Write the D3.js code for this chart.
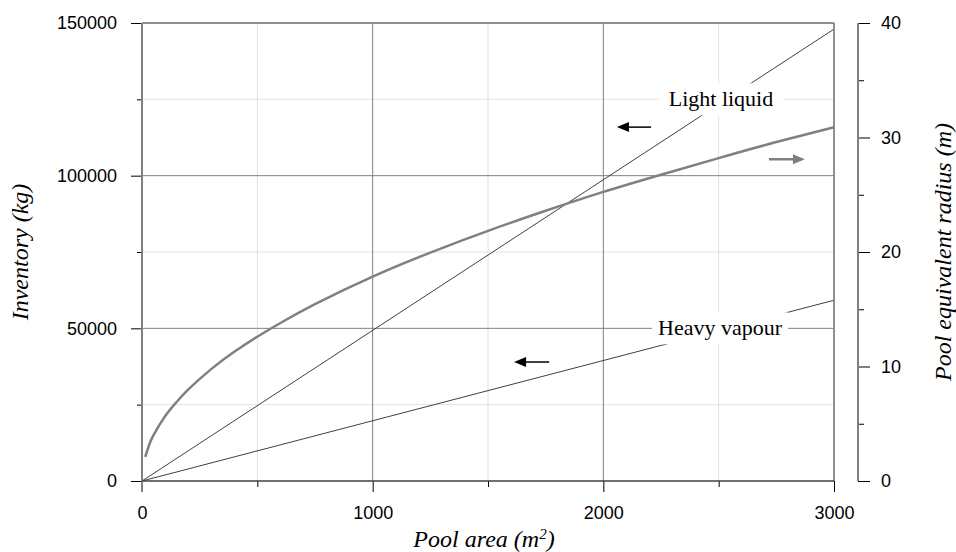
<!DOCTYPE html>
<html>
<head>
  <meta charset="UTF-8">
  <title>Pool area vs inventory</title>
  <script src="https://d3js.org/d3.v7.min.js"></script>
  <style>
    body { margin: 0; background: #fff; }
    .tick text { font-family: "Liberation Sans", Arial, sans-serif; font-size: 18px; fill: #000; }
    .title { font-family: "Liberation Serif", "Times New Roman", serif; font-style: italic; font-size: 24px; fill: #000; }
    .note { font-family: "Liberation Serif", "Times New Roman", serif; font-size: 22px; fill: #000; }
  </style>
</head>
<body>
  <div id="chart"></div>
  <script>
    // values
    const areaLine = [0, 3000];
    const lightLiquid = [0, 148000];   // kg, left axis
    const heavyVapour = [0, 59200];    // kg, left axis

    const areaRadius = [14, 30, 50, 100, 150, 200, 300, 400, 500, 600, 750, 1000, 1250, 1500, 1750, 2000, 2250, 2500, 2750, 3000];
    const radius =     [2.1, 3.1, 4.0, 5.65, 6.9, 7.98, 9.77, 11.28, 12.6, 13.8, 15.45, 17.85, 19.95, 21.85, 23.6, 25.25, 26.75, 28.2, 29.6, 30.9];

    const xTicks = [0, 1000, 2000, 3000];
    const xMinor = [500, 1500, 2500];
    const leftTicks = [0, 50000, 100000, 150000];
    const leftMinor = [25000, 75000, 125000];
    const rightTicks = [0, 10, 20, 30, 40];
    const rightMinor = [5, 15, 25, 35];

    const W = 956, H = 552;
    const margin = { top: 23, left: 142 };
    const width = 692, height = 458;

    const svg = d3.select("#chart").append("svg")
      .attr("width", W).attr("height", H);
    const g = svg.append("g").attr("transform", `translate(${margin.left},${margin.top})`);

    const x = d3.scaleLinear().domain([0, 3000]).range([0, width]);
    const yL = d3.scaleLinear().domain([0, 150000]).range([height, 0]);
    const yR = d3.scaleLinear().domain([0, 40]).range([height, 0]);

    // grid
    g.selectAll(".vminor").data(xMinor).enter().append("line")
      .attr("x1", d => x(d)).attr("x2", d => x(d)).attr("y1", 0).attr("y2", height)
      .attr("stroke", "#e2e2e2").attr("stroke-width", 1);
    g.selectAll(".hminor").data(leftMinor).enter().append("line")
      .attr("y1", d => yL(d)).attr("y2", d => yL(d)).attr("x1", 0).attr("x2", width)
      .attr("stroke", "#e2e2e2").attr("stroke-width", 1);
    g.selectAll(".vmajor").data(xTicks.slice(1)).enter().append("line")
      .attr("x1", d => x(d)).attr("x2", d => x(d)).attr("y1", 0).attr("y2", height)
      .attr("stroke", "#808080").attr("stroke-width", 1);
    g.selectAll(".hmajor").data(leftTicks.slice(1)).enter().append("line")
      .attr("y1", d => yL(d)).attr("y2", d => yL(d)).attr("x1", 0).attr("x2", width)
      .attr("stroke", "#808080").attr("stroke-width", 1);

    // lines
    const lineL = d3.line().x((d, i) => x(areaLine[i])).y(d => yL(d));
    g.append("path").datum(lightLiquid).attr("d", lineL)
      .attr("fill", "none").attr("stroke", "#404040").attr("stroke-width", 1);
    g.append("path").datum(heavyVapour).attr("d", lineL)
      .attr("fill", "none").attr("stroke", "#404040").attr("stroke-width", 1);

    const lineR = d3.line().curve(d3.curveNatural)
      .x((d, i) => x(areaRadius[i])).y(d => yR(d));
    g.append("path").datum(radius).attr("d", lineR)
      .attr("fill", "none").attr("stroke", "#808080").attr("stroke-width", 2.5);

    // axes
    const styleAxis = sel => {
      sel.select(".domain").remove();
      sel.selectAll(".tick line").attr("stroke", "#000").attr("stroke-width", 1);
    };

    g.append("g").call(d3.axisLeft(yL).tickValues(leftMinor).tickSize(5).tickFormat(""))
      .call(styleAxis);
    g.append("g").call(d3.axisLeft(yL).tickValues(leftTicks).tickSize(11).tickPadding(14).tickFormat(d3.format("d")))
      .call(styleAxis);

    g.append("g").attr("transform", `translate(0,${height})`)
      .call(d3.axisBottom(x).tickValues(xMinor).tickSize(6).tickFormat(""))
      .call(styleAxis);
    g.append("g").attr("transform", `translate(0,${height})`)
      .call(d3.axisBottom(x).tickValues(xTicks).tickSize(11).tickPadding(14).tickFormat(d3.format("d")))
      .call(styleAxis);

    const rightX = width + 24;
    g.append("g").attr("transform", `translate(${rightX},0)`)
      .call(d3.axisRight(yR).tickValues(rightMinor).tickSize(6).tickFormat(""))
      .call(styleAxis);
    g.append("g").attr("transform", `translate(${rightX},0)`)
      .call(d3.axisRight(yR).tickValues(rightTicks).tickSize(12).tickPadding(11))
      .call(styleAxis);

    // frame and axis lines
    g.append("line").attr("x1", 0).attr("x2", width).attr("y1", 0).attr("y2", 0)
      .attr("stroke", "#808080").attr("stroke-width", 1.5);
    g.append("line").attr("x1", width).attr("x2", width).attr("y1", 0).attr("y2", height)
      .attr("stroke", "#808080").attr("stroke-width", 1.5);
    g.append("line").attr("x1", 0).attr("x2", 0).attr("y1", 0).attr("y2", height + 11)
      .attr("stroke", "#808080").attr("stroke-width", 2);
    g.append("line").attr("x1", 0).attr("x2", width).attr("y1", height).attr("y2", height)
      .attr("stroke", "#404040").attr("stroke-width", 1.5);
    g.append("line").attr("x1", rightX).attr("x2", rightX).attr("y1", 0).attr("y2", height)
      .attr("stroke", "#808080").attr("stroke-width", 2);

    // annotations
    const note = (text, a, v, bw) => {
      g.append("rect").attr("x", x(a) - bw / 2).attr("y", yL(v) - 16)
        .attr("width", bw).attr("height", 32).attr("fill", "#fff");
      g.append("text").attr("class", "note").attr("x", x(a)).attr("y", yL(v) + 7)
        .attr("text-anchor", "middle").text(text);
    };
    note("Light liquid", 2510, 125000, 124);
    note("Heavy vapour", 2506, 50000, 136);

    const arrow = (x1, x2, y, color, w) => {
      const dir = x2 > x1 ? 1 : -1;
      g.append("line").attr("x1", x1).attr("x2", x2 - dir * 10).attr("y1", y).attr("y2", y)
        .attr("stroke", color).attr("stroke-width", w);
      g.append("path")
        .attr("d", `M${x2},${y} L${x2 - dir * 12},${y - 5} L${x2 - dir * 12},${y + 5} Z`)
        .attr("fill", color);
    };
    arrow(x(2207), x(2059), yL(115900), "#000", 1.5);
    arrow(x(1765), x(1613), yL(38970), "#000", 1.5);
    arrow(x(2718), x(2874), yR(28.1), "#808080", 2.5);

    // axis titles
    const xt = svg.append("text").attr("class", "title")
      .attr("x", margin.left + width / 2 - 4).attr("y", 547).attr("text-anchor", "middle");
    xt.append("tspan").text("Pool area (m");
    xt.append("tspan").attr("baseline-shift", "super").attr("font-size", "15px").text("2");
    xt.append("tspan").text(")");

    svg.append("text").attr("class", "title")
      .attr("transform", `translate(28,${margin.top + height / 2}) rotate(-90)`)
      .attr("text-anchor", "middle").text("Inventory (kg)");
    svg.append("text").attr("class", "title")
      .attr("transform", `translate(951,${margin.top + height / 2}) rotate(-90)`)
      .attr("text-anchor", "middle").text("Pool equivalent radius (m)");
  </script>
</body>
</html>
